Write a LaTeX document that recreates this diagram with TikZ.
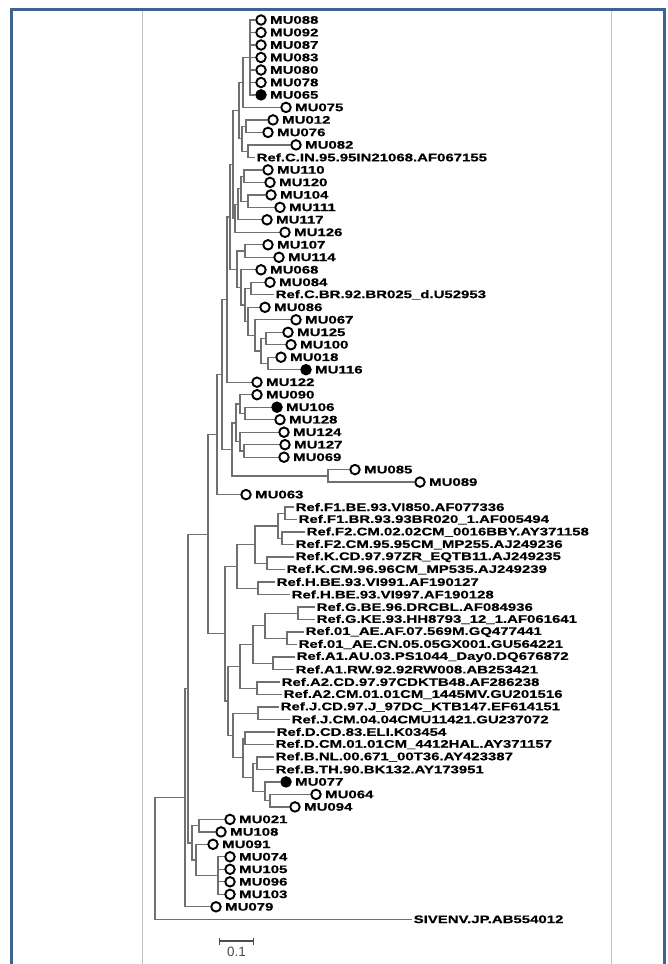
\documentclass[tikz,border=0pt]{standalone}
\usepackage{fontspec}
\setmainfont{Liberation Sans}
\newfontfamily\tipfont[FakeStretch=1.36,FakeBold=0.6]{Liberation Sans}
\newfontfamily\scalefont{Liberation Sans}
\usetikzlibrary{positioning,arrows.meta}
\definecolor{frameblue}{RGB}{62,99,146}
\definecolor{rulegrey}{RGB}{192,192,192}
\definecolor{treegrey}{RGB}{112,112,112}
\tikzset{
  br/.style={draw=treegrey, line width=1.3pt},
  tip/.style={circle, draw=black, line width=1.9pt, fill=white,
              minimum size=9.5pt, inner sep=0pt},
  tipfull/.style={tip, fill=black},
  tag/.style={font=\tipfont\bfseries\fontsize{11}{12}\selectfont,
              inner sep=0pt, text=black},
  reftag/.style={tag, anchor=west, inner sep=1.5pt},
  scalebar/.style={draw=treegrey!70!black, line width=1.3pt,
              {Bar[width=7pt]}-{Bar[width=7pt]}},
}
\begin{document}
\begin{tikzpicture}[x=1pt, y=-1pt, label distance=3.3pt]
\useasboundingbox (0,0) rectangle (667,964);
\fill[white] (0,0) rectangle (667,964);
% frame
\draw[rulegrey, line width=1.6pt] (142.5,11) -- (142.5,964);
\draw[rulegrey, line width=1.6pt] (611.5,11) -- (611.5,964);
\draw[frameblue, line width=3pt] (11,964) -- (11,9) -- (664.5,9) -- (664.5,964);

% ---- tips, top clade
\node[tip, label={[tag]right:MU088}] (mu088) at (261,20.0) {};
\node[tip, label={[tag]right:MU092}] (mu092) at (261,32.5) {};
\node[tip, label={[tag]right:MU087}] (mu087) at (261,45.0) {};
\node[tip, label={[tag]right:MU083}] (mu083) at (261,57.5) {};
\node[tip, label={[tag]right:MU080}] (mu080) at (261,70.0) {};
\node[tip, label={[tag]right:MU078}] (mu078) at (261,82.5) {};
\node[tipfull, label={[tag]right:MU065}] (mu065) at (261,94.9) {};
\node[tip, label={[tag]right:MU075}] (mu075) at (286,107.4) {};
\node[tip, label={[tag]right:MU012}] (mu012) at (273,119.9) {};
\node[tip, label={[tag]right:MU076}] (mu076) at (268,132.4) {};
\node[tip, label={[tag]right:MU082}] (mu082) at (296,144.9) {};
\node[reftag] (rcin) at (255,157.4) {Ref.C.IN.95.95IN21068.AF067155};
\node[tip, label={[tag]right:MU110}] (mu110) at (268,169.9) {};
\node[tip, label={[tag]right:MU120}] (mu120) at (270,182.4) {};
\node[tip, label={[tag]right:MU104}] (mu104) at (271,194.9) {};
\node[tip, label={[tag]right:MU111}] (mu111) at (280,207.4) {};
\node[tip, label={[tag]right:MU117}] (mu117) at (267,219.8) {};
\node[tip, label={[tag]right:MU126}] (mu126) at (285,232.3) {};
\node[tip, label={[tag]right:MU107}] (mu107) at (268,244.8) {};
\node[tip, label={[tag]right:MU114}] (mu114) at (279,257.3) {};
\node[tip, label={[tag]right:MU068}] (mu068) at (261,269.8) {};
\node[tip, label={[tag]right:MU084}] (mu084) at (270,282.3) {};
\node[reftag] (rcbr) at (274,294.8) {Ref.C.BR.92.BR025\_d.U52953};
\node[tip, label={[tag]right:MU086}] (mu086) at (265,307.3) {};
\node[tip, label={[tag]right:MU067}] (mu067) at (296,319.8) {};
\node[tip, label={[tag]right:MU125}] (mu125) at (288,332.3) {};
\node[tip, label={[tag]right:MU100}] (mu100) at (291,344.7) {};
\node[tip, label={[tag]right:MU018}] (mu018) at (281,357.2) {};
\node[tipfull, label={[tag]right:MU116}] (mu116) at (306,369.7) {};
\node[tip, label={[tag]right:MU122}] (mu122) at (257,382.2) {};
\node[tip, label={[tag]right:MU090}] (mu090) at (257,394.7) {};
\node[tipfull, label={[tag]right:MU106}] (mu106) at (277,407.2) {};
\node[tip, label={[tag]right:MU128}] (mu128) at (280,419.7) {};
\node[tip, label={[tag]right:MU124}] (mu124) at (284,432.2) {};
\node[tip, label={[tag]right:MU127}] (mu127) at (285,444.7) {};
\node[tip, label={[tag]right:MU069}] (mu069) at (284,457.2) {};
\node[tip, label={[tag]right:MU085}] (mu085) at (355,469.6) {};
\node[tip, label={[tag]right:MU089}] (mu089) at (420,482.1) {};
\node[tip, label={[tag]right:MU063}] (mu063) at (246,494.6) {};

% ---- reference sequences
\node[reftag] (rf1be) at (294,507.1) {Ref.F1.BE.93.VI850.AF077336};
\node[reftag] (rf1br) at (297,519.6) {Ref.F1.BR.93.93BR020\_1.AF005494};
\node[reftag] (rf2cma) at (305,532.1) {Ref.F2.CM.02.02CM\_0016BBY.AY371158};
\node[reftag] (rf2cmb) at (294,544.6) {Ref.F2.CM.95.95CM\_MP255.AJ249236};
\node[reftag] (rkcd) at (294,557.1) {Ref.K.CD.97.97ZR\_EQTB11.AJ249235};
\node[reftag] (rkcm) at (285,569.6) {Ref.K.CM.96.96CM\_MP535.AJ249239};
\node[reftag] (rhbea) at (275,582.0) {Ref.H.BE.93.VI991.AF190127};
\node[reftag] (rhbeb) at (290,594.5) {Ref.H.BE.93.VI997.AF190128};
\node[reftag] (rgbe) at (315,607.0) {Ref.G.BE.96.DRCBL.AF084936};
\node[reftag] (rgke) at (315,619.5) {Ref.G.KE.93.HH8793\_12\_1.AF061641};
\node[reftag] (raeaf) at (304,632.0) {Ref.01\_AE.AF.07.569M.GQ477441};
\node[reftag] (raecn) at (297,644.5) {Ref.01\_AE.CN.05.05GX001.GU564221};
\node[reftag] (ra1au) at (295,657.0) {Ref.A1.AU.03.PS1044\_Day0.DQ676872};
\node[reftag] (ra1rw) at (294,669.5) {Ref.A1.RW.92.92RW008.AB253421};
\node[reftag] (ra2cd) at (280,682.0) {Ref.A2.CD.97.97CDKTB48.AF286238};
\node[reftag] (ra2cm) at (282,694.5) {Ref.A2.CM.01.01CM\_1445MV.GU201516};
\node[reftag] (rjcd) at (279,706.9) {Ref.J.CD.97.J\_97DC\_KTB147.EF614151};
\node[reftag] (rjcm) at (290,719.4) {Ref.J.CM.04.04CMU11421.GU237072};
\node[reftag] (rdcd) at (275,731.9) {Ref.D.CD.83.ELI.K03454};
\node[reftag] (rdcm) at (274,744.4) {Ref.D.CM.01.01CM\_4412HAL.AY371157};
\node[reftag] (rbnl) at (274,756.9) {Ref.B.NL.00.671\_00T36.AY423387};
\node[reftag] (rbth) at (274,769.4) {Ref.B.TH.90.BK132.AY173951};
\node[tipfull, label={[tag]right:MU077}] (mu077) at (286,781.9) {};
\node[tip, label={[tag]right:MU064}] (mu064) at (316,794.4) {};
\node[tip, label={[tag]right:MU094}] (mu094) at (295,806.9) {};

% ---- tips, basal group
\node[tip, label={[tag]right:MU021}] (mu021) at (230,819.4) {};
\node[tip, label={[tag]right:MU108}] (mu108) at (221,831.9) {};
\node[tip, label={[tag]right:MU091}] (mu091) at (213,844.3) {};
\node[tip, label={[tag]right:MU074}] (mu074) at (230,856.8) {};
\node[tip, label={[tag]right:MU105}] (mu105) at (230,869.3) {};
\node[tip, label={[tag]right:MU096}] (mu096) at (230,881.8) {};
\node[tip, label={[tag]right:MU103}] (mu103) at (230,894.3) {};
\node[tip, label={[tag]right:MU079}] (mu079) at (216,906.8) {};
\node[reftag] (siv) at (412,919.3) {SIVENV.JP.AB554012};

% ---- internal nodes
\coordinate (n1) at (250,57.5);
\coordinate (n2) at (243,82.5);
\coordinate (n3) at (246,126.2);
\coordinate (n4) at (248,151.2);
\coordinate (n34) at (242,138.7);
\coordinate (n5) at (239,110.6);
\coordinate (n6a) at (244,176.2);
\coordinate (n7) at (248,201.2);
\coordinate (n6) at (241,188.7);
\coordinate (n8) at (238,204.3);
\coordinate (n9) at (235,218.3);
\coordinate (n20) at (233,164.5);
\coordinate (n10) at (245,251.1);
\coordinate (n11) at (251,288.6);
\coordinate (n12) at (268,363.5);
\coordinate (n13) at (266,338.5);
\coordinate (n14) at (261,351.0);
\coordinate (n15) at (255,335.4);
\coordinate (n16) at (248,321.4);
\coordinate (n17) at (245,305.0);
\coordinate (n18) at (241,287.4);
\coordinate (n19) at (237,269.3);
\coordinate (n21) at (230,216.9);
\coordinate (na) at (227,299.6);
\coordinate (n22) at (245,413.5);
\coordinate (n23) at (240,404.1);
\coordinate (n25) at (244,451.0);
\coordinate (n26) at (240,441.6);
\coordinate (n27) at (236,422.9);
\coordinate (n28) at (328,475.9);
\coordinate (n29) at (232,449.4);
\coordinate (v) at (222,374.5);
\coordinate (u) at (217,434.6);
\coordinate (f1) at (285,513.4);
\coordinate (f2) at (282,538.4);
\coordinate (f) at (278,525.9);
\coordinate (k) at (267,563.4);
\coordinate (fk) at (255,544.6);
\coordinate (h) at (258,588.3);
\coordinate (rtop) at (237,566.4);
\coordinate (g) at (298,613.3);
\coordinate (ae) at (287,638.3);
\coordinate (q) at (265,625.8);
\coordinate (a1) at (273,663.3);
\coordinate (p) at (253,644.5);
\coordinate (a2) at (257,688.3);
\coordinate (ag) at (240,666.4);
\coordinate (j) at (258,713.2);
\coordinate (d) at (245,738.2);
\coordinate (b) at (257,763.2);
\coordinate (m2) at (270,800.7);
\coordinate (m) at (265,791.3);
\coordinate (bm) at (253,777.3);
\coordinate (dbm) at (243,757.8);
\coordinate (bdj) at (233,735.5);
\coordinate (rbot) at (228,701.0);
\coordinate (rf) at (225,633.7);
\coordinate (x) at (208,534.2);
\coordinate (n30) at (199,825.7);
\coordinate (n32) at (218,875.6);
\coordinate (n33) at (196,860.0);
\coordinate (n34b) at (192,842.9);
\coordinate (nb) at (188,688.6);
\coordinate (na1) at (185,797.7);
\coordinate (root) at (155,858.5);

% ---- branches
\draw[br] (n1) |- (mu088) (n1) |- (mu092) (n1) |- (mu087) (n1) |- (mu083)
          (n1) |- (mu080) (n1) |- (mu078) (n1) |- (mu065);
\draw[br] (n2) |- (n1) (n2) |- (mu075);
\draw[br] (n3) |- (mu012) (n3) |- (mu076);
\draw[br] (n4) |- (mu082) (n4) |- (rcin);
\draw[br] (n34) |- (n3) (n34) |- (n4);
\draw[br] (n5) |- (n2) (n5) |- (n34);
\draw[br] (n6a) |- (mu110) (n6a) |- (mu120);
\draw[br] (n7) |- (mu104) (n7) |- (mu111);
\draw[br] (n6) |- (n6a) (n6) |- (n7);
\draw[br] (n8) |- (n6) (n8) |- (mu117);
\draw[br] (n9) |- (n8) (n9) |- (mu126);
\draw[br] (n20) |- (n5) (n20) |- (n9);
\draw[br] (n10) |- (mu107) (n10) |- (mu114);
\draw[br] (n11) |- (mu084) (n11) |- (rcbr);
\draw[br] (n12) |- (mu018) (n12) |- (mu116);
\draw[br] (n13) |- (mu125) (n13) |- (mu100);
\draw[br] (n14) |- (n13) (n14) |- (n12);
\draw[br] (n15) |- (mu067) (n15) |- (n14);
\draw[br] (n16) |- (mu086) (n16) |- (n15);
\draw[br] (n17) |- (n11) (n17) |- (n16);
\draw[br] (n18) |- (mu068) (n18) |- (n17);
\draw[br] (n19) |- (n10) (n19) |- (n18);
\draw[br] (n21) |- (n20) (n21) |- (n19);
\draw[br] (na) |- (n21) (na) |- (mu122);
\draw[br] (n22) |- (mu106) (n22) |- (mu128);
\draw[br] (n23) |- (mu090) (n23) |- (n22);
\draw[br] (n25) |- (mu127) (n25) |- (mu069);
\draw[br] (n26) |- (mu124) (n26) |- (n25);
\draw[br] (n27) |- (n23) (n27) |- (n26);
\draw[br] (n28) |- (mu085) (n28) |- (mu089);
\draw[br] (n29) |- (n27) (n29) |- (n28);
\draw[br] (v) |- (na) (v) |- (n29);
\draw[br] (u) |- (v) (u) |- (mu063);
\draw[br] (f1) |- (rf1be) (f1) |- (rf1br);
\draw[br] (f2) |- (rf2cma) (f2) |- (rf2cmb);
\draw[br] (f) |- (f1) (f) |- (f2);
\draw[br] (k) |- (rkcd) (k) |- (rkcm);
\draw[br] (fk) |- (f) (fk) |- (k);
\draw[br] (h) |- (rhbea) (h) |- (rhbeb);
\draw[br] (rtop) |- (fk) (rtop) |- (h);
\draw[br] (g) |- (rgbe) (g) |- (rgke);
\draw[br] (ae) |- (raeaf) (ae) |- (raecn);
\draw[br] (q) |- (g) (q) |- (ae);
\draw[br] (a1) |- (ra1au) (a1) |- (ra1rw);
\draw[br] (p) |- (q) (p) |- (a1);
\draw[br] (a2) |- (ra2cd) (a2) |- (ra2cm);
\draw[br] (ag) |- (p) (ag) |- (a2);
\draw[br] (j) |- (rjcd) (j) |- (rjcm);
\draw[br] (d) |- (rdcd) (d) |- (rdcm);
\draw[br] (b) |- (rbnl) (b) |- (rbth);
\draw[br] (m2) |- (mu064) (m2) |- (mu094);
\draw[br] (m) |- (mu077) (m) |- (m2);
\draw[br] (bm) |- (b) (bm) |- (m);
\draw[br] (dbm) |- (d) (dbm) |- (bm);
\draw[br] (bdj) |- (j) (bdj) |- (dbm);
\draw[br] (rbot) |- (ag) (rbot) |- (bdj);
\draw[br] (rf) |- (rtop) (rf) |- (rbot);
\draw[br] (x) |- (u) (x) |- (rf);
\draw[br] (n30) |- (mu021) (n30) |- (mu108);
\draw[br] (n32) |- (mu074) (n32) |- (mu105) (n32) |- (mu096) (n32) |- (mu103);
\draw[br] (n33) |- (mu091) (n33) |- (n32);
\draw[br] (n34b) |- (n30) (n34b) |- (n33);
\draw[br] (nb) |- (x) (nb) |- (n34b);
\draw[br] (na1) |- (nb) (na1) |- (mu079);
\draw[br] (root) |- (na1) (root) |- (siv);

% ---- scale
\coordinate (sbl) at (219,941);
\coordinate (sbr) at (254,941);
\draw[scalebar] (sbl) -- (sbr);
\node[font=\scalefont\fontsize{13.5}{14}\selectfont, text=black!70, inner sep=0pt, below=6pt of sbl, xshift=17.5pt] (sblabel) {0.1};
\end{tikzpicture}
\end{document}
